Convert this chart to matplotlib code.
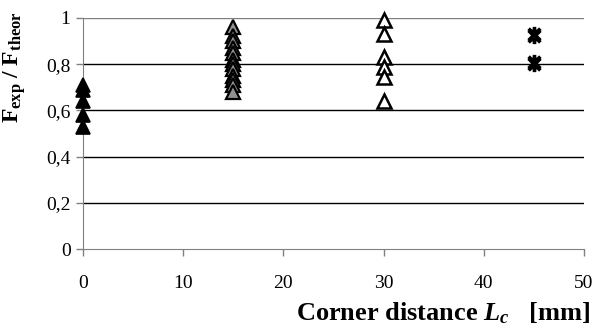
import numpy as np
import matplotlib.pyplot as plt
from matplotlib.path import Path
from matplotlib.ticker import FuncFormatter

plt.rcParams['font.family'] = ['Liberation Serif', 'DejaVu Serif']
plt.rcParams['mathtext.fontset'] = 'custom'
plt.rcParams['mathtext.rm'] = 'Liberation Serif'
plt.rcParams['mathtext.it'] = 'Liberation Serif:italic'
plt.rcParams['mathtext.bf'] = 'Liberation Serif:bold'
plt.rcParams['mathtext.bfit'] = 'Liberation Serif:bold:italic'

# datos
y_0 = [0.71, 0.69, 0.64, 0.58, 0.53]
y_15 = [0.96, 0.92, 0.90, 0.87, 0.85, 0.82, 0.80, 0.78, 0.75, 0.73, 0.71, 0.68]
y_30 = [0.99, 0.93, 0.83, 0.79, 0.745, 0.64]
y_45 = [0.93, 0.92, 0.80, 0.81]
x_ticks = [0, 10, 20, 30, 40, 50]
y_ticks = [0, 0.2, 0.4, 0.6, 0.8, 1]

# marcador tipo asterisco (x + linea vertical)
star = Path([(-1, -1), (1, 1), (-1, 1), (1, -1), (0, -1.3), (0, 1.3)],
            [Path.MOVETO, Path.LINETO, Path.MOVETO, Path.LINETO, Path.MOVETO, Path.LINETO])

fig = plt.figure(figsize=(5.94, 3.29), dpi=100)
ax = fig.add_axes([83/594, 1-249/329, (584-83)/594, (249-18)/329])

ax.plot([0]*len(y_0), y_0, ls='none', marker='^', ms=10, mfc='black', mec='black', mew=1.2, clip_on=False, zorder=3)
ax.plot([15]*len(y_15), y_15, ls='none', marker='^', ms=10, mfc='#909090', mec='black', mew=1.6, clip_on=False, zorder=3)
ax.plot([30]*len(y_30), y_30, ls='none', marker='^', ms=10, mfc='white', mec='black', mew=1.8, clip_on=False, zorder=3)
ax.plot([45]*len(y_45), y_45, ls='none', marker=star, ms=11, mec='black', mew=2.6, clip_on=False, zorder=3)

ax.set_xlim(0, 50)
ax.set_ylim(0, 1)
ax.set_xticks(x_ticks)
ax.set_yticks(y_ticks)
ax.yaxis.set_major_formatter(FuncFormatter(lambda v, p: ('%g' % v).replace('.', ',')))

for yv in y_ticks[1:-1]:
    ax.axhline(yv, color='black', lw=1.0, zorder=1)
ax.axhline(1, color='#808080', lw=1.0, zorder=1)

for s in ['top', 'right']:
    ax.spines[s].set_visible(False)
ax.spines['left'].set_color('#808080')
ax.spines['bottom'].set_color('#808080')
ax.tick_params(axis='x', direction='out', length=5, width=1, color='#808080', pad=14, labelsize=14)
ax.tick_params(axis='y', direction='out', length=5, width=1, color='#808080', pad=4, labelsize=14)

fig.text(590/594, 1-313/329, r'Corner distance $\mathbfit{L}_{\mathbfit{c}}$   [mm]',
         ha='right', va='center', fontsize=19, fontweight='bold')
fig.text(15/594, 1-67/329, r'$\mathbf{F_{exp}\ /\ F_{theor}}$',
         ha='center', va='center', rotation=90, fontsize=17)

fig.savefig('out.png', dpi=100)
